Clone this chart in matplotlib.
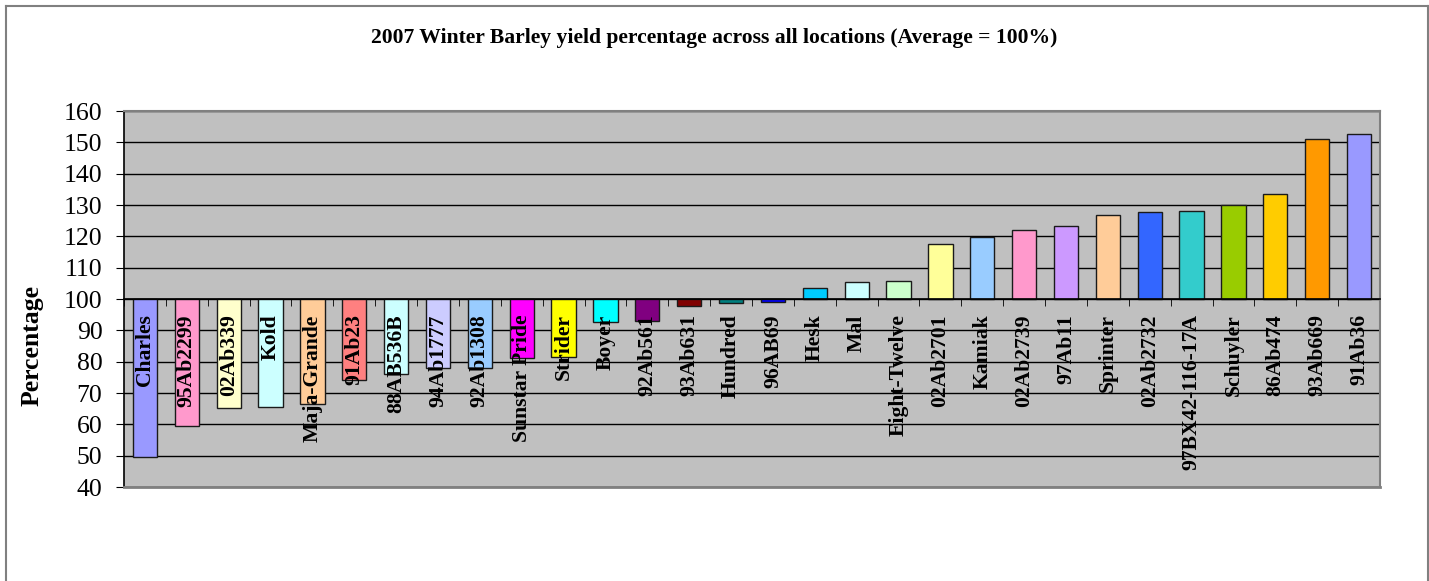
import matplotlib
matplotlib.use('Agg')
import matplotlib.pyplot as plt
import numpy as np
from matplotlib.lines import Line2D

# Yield percentage per variety (average = 100)
varieties = ['Charles', '95Ab2299', '02Ab339', 'Kold', 'Maja-Grande', '91Ab23', '88AB536B',
             '94Ab1777', '92Ab1308', 'Sunstar Pride', 'Strider', 'Boyer', '92Ab561', '93Ab631',
             'Hundred', '96AB69', 'Hesk', 'Mal', 'Eight-Twelve', '02Ab2701', 'Kamiak', '02Ab2739',
             '97Ab11', 'Sprinter', '02Ab2732', '97BX42-116-17A', 'Schuyler', '86Ab474',
             '93Ab669', '91Ab36']
yields = [49.7, 59.5, 65.1, 65.5, 66.4, 74.1, 76.1, 78.0, 78.1, 81.3, 81.5, 92.6, 93.1, 97.9,
          98.8, 99.2, 103.4, 105.3, 105.6, 117.5, 119.7, 121.9, 123.2, 126.9, 127.7, 128.0,
          130.1, 133.4, 151.0, 152.7]
bar_colors = ['#9999FF', '#FF99CC', '#FFFFCC', '#CCFFFF', '#FFCC99', '#FF8080', '#CCFFFF',
              '#CCCCFF', '#99CCFF', '#FF00FF', '#FFFF00', '#00FFFF', '#800080', '#800000',
              '#008080', '#0000FF', '#00CCFF', '#CCFFFF', '#CCFFCC', '#FFFF99', '#99CCFF',
              '#FF99CC', '#CC99FF', '#FFCC99', '#3366FF', '#33CCCC', '#99CC00', '#FFCC00',
              '#FF9900', '#9999FF']
baseline = 100

plt.rcParams['font.family'] = ['Liberation Serif', 'DejaVu Serif']

fig = plt.figure(figsize=(14.29, 5.81), dpi=100)
ax = fig.add_axes([124 / 1429, 1 - 487 / 581, 1256 / 1429, 376 / 581])
ax.set_facecolor('#C0C0C0')

x = np.arange(len(varieties))
heights = np.array(yields) - baseline
ax.bar(x, heights, bottom=baseline, width=0.58, color=bar_colors,
       edgecolor='#1a1a1a', linewidth=1.0, zorder=1)

ax.set_xlim(-0.5, len(varieties) - 0.5)
ax.set_ylim(40, 160)
ax.set_yticks(np.arange(40, 161, 10))

# gridlines under the bars
for yv in ax.get_yticks():
    ax.axhline(yv, color='black', linewidth=1.0, zorder=0.5)

# category axis crosses at 100
ax.spines['bottom'].set_position(('data', baseline))
ax.spines['bottom'].set_color('black')
ax.spines['bottom'].set_linewidth(1.2)
ax.spines['left'].set_color('black')
ax.spines['left'].set_linewidth(1.2)
for side in ['top', 'right']:
    ax.spines[side].set_color('#808080')
    ax.spines[side].set_linewidth(1.5)
ax.axhline(40, color='#808080', linewidth=2, zorder=3, clip_on=False)

ax.set_xticks(x)
ax.set_xticklabels(varieties, rotation=90, fontsize=15.6, fontweight='bold', va='top')
ax.set_xticks(np.arange(-0.5, len(varieties), 1), minor=True)
ax.tick_params(axis='x', which='major', length=0, pad=11)
ax.tick_params(axis='x', which='minor', length=5, direction='out', color='black')
ax.tick_params(axis='y', length=5.5, direction='out', pad=10, labelsize=18.5)

fig.text(32 / 1429, 1 - 345 / 581, 'Percentage', rotation=90, ha='center', va='center',
         fontsize=18.5, fontweight='bold')
fig.text(0.5, 1 - 38 / 581, '2007 Winter Barley yield percentage across all locations (Average = 100%)',
         ha='center', va='center', fontsize=15.6, fontweight='bold')

# chart frame
fc = '#808080'
fig.add_artist(Line2D([5.5 / 1429, 5.5 / 1429], [0, 1 - 5.5 / 581], color=fc, lw=1.5))
fig.add_artist(Line2D([5.5 / 1429, 1427.5 / 1429], [1 - 5.5 / 581, 1 - 5.5 / 581], color=fc, lw=1.5))
fig.add_artist(Line2D([1427.5 / 1429, 1427.5 / 1429], [0, 1 - 5.5 / 581], color=fc, lw=1.5))

fig.savefig('out.png', dpi=100)
